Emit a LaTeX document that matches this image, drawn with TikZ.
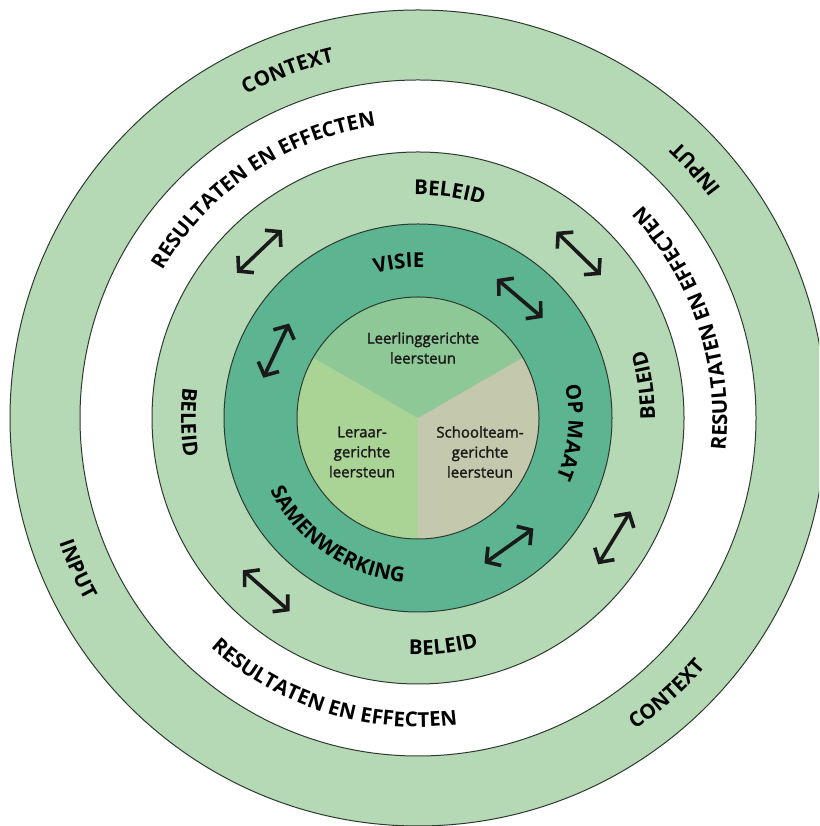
\documentclass[tikz,border=0pt]{standalone}
\usepackage{fontspec}
\setmainfont{Open Sans}
\newfontfamily\innerfnt{Open Sans}[FakeBold=1.6]
\usetikzlibrary{decorations.text,arrows.meta,calc}
\definecolor{ringlight}{HTML}{B5D9B5}
\definecolor{ringdark}{HTML}{5CB491}
\definecolor{sectop}{HTML}{8DC896}
\definecolor{secleft}{HTML}{AAD496}
\definecolor{secright}{HTML}{C4C8AC}
\definecolor{edge}{HTML}{2E3A30}
\definecolor{ink}{HTML}{1A1A1A}
\newcommand\lblfont{\bfseries\fontsize{20.5}{24}\selectfont}
\newcommand\cwlabel[4]{\path[decorate,decoration={text along path,text align=center,text={|\lblfont|#4}}] ($(C)+({#1+#3}:#2)$) arc[start angle={#1+#3}, end angle={#1-#3}, radius=#2];}
\newcommand\ccwlabel[4]{\path[decorate,decoration={text along path,text align=center,text={|\lblfont|#4}}] ($(C)+({#1-#3}:#2)$) arc[start angle={#1-#3}, end angle={#1+#3}, radius=#2];}
\begin{document}
\begin{tikzpicture}[x=1pt,y=1pt,
  ring/.style={draw=edge,line width=1pt},
  dbl/.style={{Straight Barb[length=10pt,width=23pt,line width=3.6pt]}-{Straight Barb[length=10pt,width=23pt,line width=3.6pt]},line width=3.6pt,draw=ink},
  inner/.style={font=\innerfnt\fontsize{15}{20}\selectfont,align=center,text=ink,inner sep=0pt}]
\useasboundingbox (0,0) rectangle (819,826);
\clip (0,0) rectangle (819,826);
\fill[white] (0,0) rectangle (819,826);
\coordinate (C) at (418,408);
% rings
\draw[ring,fill=ringlight] (C) circle (408);
\draw[ring,fill=white] (C) circle (338);
\draw[ring,fill=ringlight] (C) circle (266);
\draw[ring,fill=ringdark] (C) circle (194);
% inner sectors
\fill[sectop] (C) -- ($(C)+(30:121)$) arc[start angle=30,end angle=150,radius=121] -- cycle;
\fill[secleft] (C) -- ($(C)+(150:121)$) arc[start angle=150,end angle=270,radius=121] -- cycle;
\fill[secright] (C) -- ($(C)+(270:121)$) arc[start angle=270,end angle=390,radius=121] -- cycle;
\draw[ring] (C) circle (121);
% outer ring labels
\cwlabel{110.6}{366}{35}{CONTEXT}
\ccwlabel{41.9}{380}{30}{INPUT}
\ccwlabel{204}{380}{30}{INPUT}
\ccwlabel{-48}{380}{30}{CONTEXT}
% white ring labels
\cwlabel{124.1}{295}{45}{RESULTATEN EN EFFECTEN}
\ccwlabel{18.7}{309}{45}{RESULTATEN EN EFFECTEN}
\ccwlabel{252.6}{309}{45}{RESULTATEN EN EFFECTEN}
% beleid ring labels
\cwlabel{82}{223}{30}{BELEID}
\ccwlabel{8.2}{237}{30}{BELEID}
\ccwlabel{181}{237}{30}{BELEID}
\ccwlabel{276.3}{237}{30}{BELEID}
% dark ring labels
\cwlabel{97}{150.5}{35}{VISIE}
\cwlabel{-5.5}{150.5}{45}{OP MAAT}
\ccwlabel{235.5}{164.5}{50}{SAMENWERKING}
% inner texts
\node[inner] (leerling) at (423,478) {Leerlinggerichte\\leersteun};
\node[inner] (leraar) at (362,374) {Leraar-\\gerichte\\leersteun};
\node[inner] (school) at (480,374) {Schoolteam-\\gerichte\\leersteun};
% arrows in beleid ring
\foreach \a/\n in {133.6/p1,45.7/p2,-31.4/p3,228.7/p4}{
  \coordinate (\n s) at ($(C)+(\a:230)+({\a+90}:31)$);
  \coordinate (\n e) at ($(C)+(\a:230)+({\a-90}:31)$);
  \draw[dbl] (\n s) -- (\n e);
}
% arrows in dark ring
\foreach \a/\n in {154.6/q1,49.6/q2,-54.6/q3}{
  \coordinate (\n s) at ($(C)+(\a:157)+({\a+90}:30)$);
  \coordinate (\n e) at ($(C)+(\a:157)+({\a-90}:30)$);
  \draw[dbl] (\n s) -- (\n e);
}
\end{tikzpicture}
\end{document}
